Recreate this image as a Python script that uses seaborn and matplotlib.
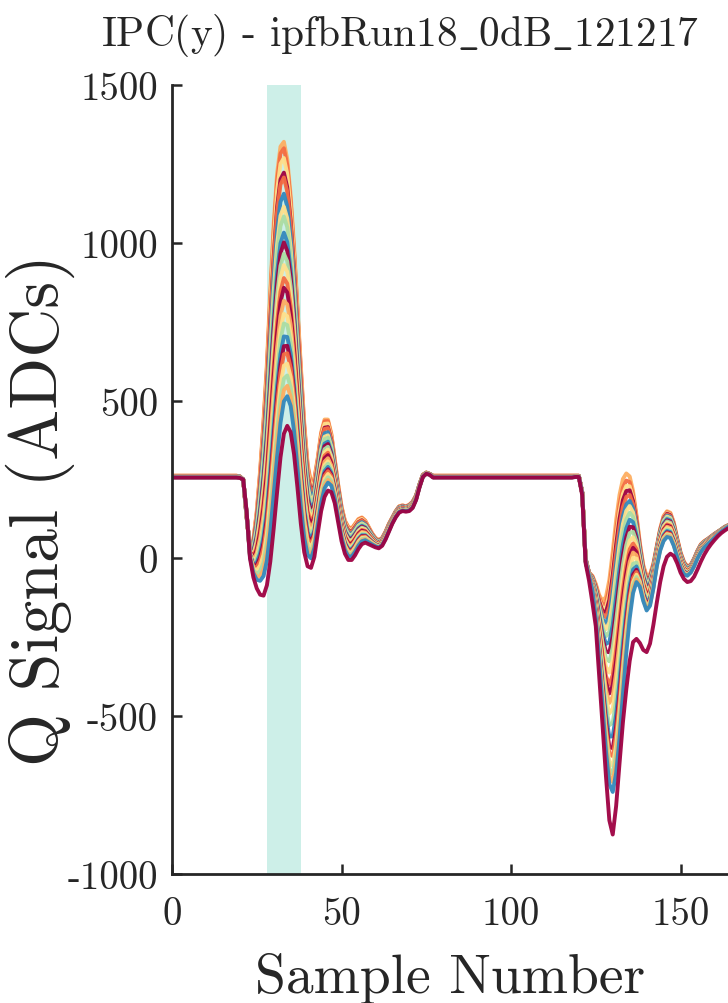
import numpy as np
import pandas as pd
import matplotlib
matplotlib.use("Agg")
import matplotlib.pyplot as plt
import seaborn as sns

# ---------------- data ----------------
title = "IPC(y) - ipfbRun18$\\_$0dB$\\_$121217"
x_label = "Sample Number"
y_label = "Q Signal (ADCs)"
x_ticks = [0, 50, 100, 150]
y_ticks = [-1000, -500, 0, 500, 1000, 1500]
highlight = (28, 38)

samples = np.arange(0, 166)

# first pulse, samples 20..76
high_pulse1 = [260, 250, 130, 40, 60, 150, 280, 440, 620, 850,
               1060, 1220, 1305, 1320, 1265, 1150, 990, 800, 610, 430,
               300, 240, 255, 320, 400, 440, 440, 395, 315, 235,
               165, 120, 100, 95, 110, 125, 130, 120, 100, 80,
               65, 58, 65, 85, 110, 130, 150, 165, 168, 165,
               170, 180, 200, 235, 265, 272, 268]
crim_pulse1 = [255, 250, 150, 0, -60, -95, -115, -118, -85, -10,
               95, 210, 320, 395, 420, 400, 330, 225, 110, 20,
               -25, -30, 5, 80, 150, 195, 215, 210, 175, 115,
               55, 15, -5, -5, 10, 30, 45, 50, 45, 40,
               35, 32, 40, 60, 85, 110, 130, 145, 150, 148,
               150, 160, 185, 225, 258, 268, 265]
# second pulse, samples 119..165
high_pulse2 = [262, 262, 210, 0, -45, -55, -80, -115, -133, -120,
               -65, 25, 125, 205, 255, 272, 262, 215, 140, 50,
               -20, -55, -50, -15, 40, 95, 135, 150, 145, 115,
               65, 20, -10, -25, -20, 0, 25, 45, 55, 62,
               70, 78, 85, 92, 100, 105, 110]
blue_pulse2 = [262, 262, 205, -10, -55, -100, -190, -320, -470, -610,
               -715, -740, -680, -570, -430, -300, -190, -110, -75, -90,
               -135, -165, -150, -95, -25, 25, 55, 68, 65, 40,
               5, -30, -50, -55, -45, -25, 0, 20, 35, 45,
               55, 65, 75, 85, 92, 100, 105]
crim_pulse2 = [258, 258, 200, -15, -70, -140, -215, -370, -530, -690,
               -830, -875, -785, -650, -520, -415, -325, -265, -255, -268,
               -290, -297, -270, -210, -140, -75, -25, 5, 15, 8,
               -15, -45, -65, -75, -72, -58, -35, -10, 12, 30,
               45, 58, 70, 80, 88, 95, 100]
baseline_high = 262
baseline_crim = 256

# per-trace first-pulse peak and second-pulse trough (ADC)
trace_peak1 = [1320, 1300, 1270, 1225, 1210, 1160, 1120, 1090, 1040, 1010,
               975, 940, 900, 870, 830, 790, 760, 720, 690, 665,
               630, 590, 555, 520]
trace_trough2 = [-136, -160, -178, -195, -215, -240, -262, -290, -320, -350,
                 -377, -410, -446, -472, -500, -531, -566, -600, -630, -650,
                 -674, -695, -715, -740]
trace_colors = ["lo", "or", "ye", "cr", "or", "bl", "ye", "gr", "bl", "cr",
                "gr", "ye", "or", "cr", "lo", "ye", "gr", "bl", "cr", "or",
                "ye", "gr", "lo", "bl"]
palette_hex = {"cr": "#9e0142", "or": "#f46d43", "lo": "#fdae61",
               "ye": "#fee08b", "gr": "#abdda4", "bl": "#3288bd"}

# ---------------- assemble reference traces ----------------
n = len(samples)
high = np.full(n, float(baseline_high))
crim = np.full(n, float(baseline_crim))
blue = np.full(n, float(baseline_high))
high[20:77] = high_pulse1
crim[20:77] = crim_pulse1
high[119:166] = high_pulse2
blue[119:166] = blue_pulse2
crim[119:166] = crim_pulse2

p_lo, p_hi = max(crim_pulse1), max(high_pulse1)
t_lo, t_hi = min(blue_pulse2), min(high_pulse2)

rows = []
for i, (pk, tr, c) in enumerate(zip(trace_peak1, trace_trough2, trace_colors)):
    w1 = (pk - p_lo) / (p_hi - p_lo)
    w2 = (tr - t_lo) / (t_hi - t_lo)
    first = crim + w1 * (high - crim)
    second = blue + w2 * (high - blue)
    y = np.where(samples < 121, first, second)
    rows.append(pd.DataFrame({"sample": samples, "signal": y, "trace": f"t{i:02d}"}))
rows.append(pd.DataFrame({"sample": samples, "signal": crim, "trace": "t99"}))
df = pd.concat(rows, ignore_index=True)
pal = {f"t{i:02d}": palette_hex[c] for i, c in enumerate(trace_colors)}
pal["t99"] = palette_hex["cr"]

# ---------------- plot ----------------
sns.set_style("ticks")
plt.rcParams["font.family"] = ["cmr10", "DejaVu Serif"]
plt.rcParams["axes.unicode_minus"] = False
plt.rcParams["mathtext.fontset"] = "cm"

fig = plt.figure(figsize=(7.28, 10.04), dpi=100)
ax = fig.add_axes([172 / 728, 129 / 1004, 556 / 728, 789 / 1004])
ax.axvspan(*highlight, color="#cdefe8", lw=0, zorder=0)
sns.lineplot(data=df, x="sample", y="signal", hue="trace", palette=pal,
             legend=False, linewidth=2.8, ax=ax, sort=False, alpha=0.95)

ax.set_xlim(0, 164)
ax.set_ylim(-1000, 1500)
ax.set_xticks(x_ticks)
ax.set_yticks(y_ticks)
ax.set_xticklabels([str(v) for v in x_ticks])
ax.set_yticklabels([str(v) for v in y_ticks])
ax.tick_params(direction="in", length=7, width=1.8, labelsize=28,
               colors="#262626")
ax.tick_params(axis="y", pad=10)
ax.tick_params(axis="x", pad=16)
for s in ["top", "right"]:
    ax.spines[s].set_visible(False)
for s in ["left", "bottom"]:
    ax.spines[s].set_linewidth(2)
    ax.spines[s].set_color("#262626")
ax.set_xlabel(x_label, fontsize=40, color="#262626", labelpad=14)
ax.set_ylabel(y_label, fontsize=49, color="#262626")
ax.yaxis.set_label_coords((75 - 172) / 556, (1004 - 510 - 129) / 789)
ax.set_title(title, fontsize=29.8, pad=29, color="#262626",
             x=(400 - 172) / 556)

fig.savefig("out.png", dpi=100)
